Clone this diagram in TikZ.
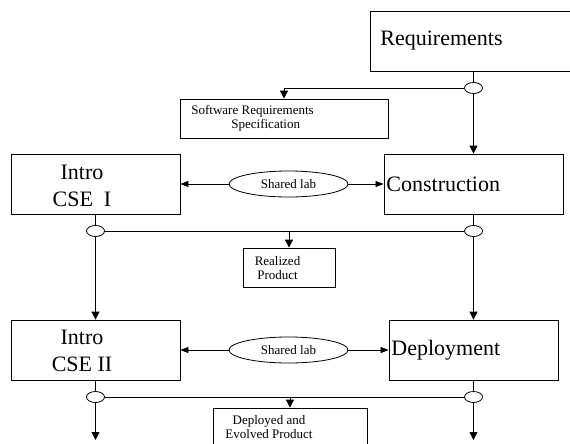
\documentclass[tikz,border=0pt]{standalone}
\usepackage{fontspec}
\setmainfont{Liberation Serif}
\usetikzlibrary{arrows.meta,shapes.geometric}

\begin{document}
\begin{tikzpicture}[x=1pt, y=-1pt, line width=0.8pt,
    stage/.style={draw, minimum height=60pt, inner sep=0pt},
    artifact/.style={draw, minimum height=39pt, inner sep=0pt},
    bigtext/.style={font=\fontsize{22}{27}\selectfont, inner sep=0pt},
    smalltext/.style={font=\fontsize{13}{13.5}\selectfont, inner sep=0pt},
    lab/.style={draw, ellipse, minimum width=119pt, minimum height=26pt, inner sep=0pt,
        font=\fontsize{13}{13.5}\selectfont},
    junction/.style={draw, fill=white, ellipse, minimum width=18pt, minimum height=11pt, inner sep=0pt},
    flow/.style={-{Triangle[length=8pt,width=8pt]}},
    side/.style={-{Triangle[length=8pt,width=6pt]}, line width=0.7pt}]
    \useasboundingbox (0,0) rectangle (570,444);
    % Stages
    \node[stage, minimum width=215pt] (req) at (477.5,41) {};
    \node[bigtext, anchor=west] (reqtext) at (380,41) {Requirements};
    \node[stage, minimum width=179pt] (cons) at (473.5,184) {};
    \node[bigtext, anchor=west] (constext) at (386,184) {Construction};
    \node[stage, minimum width=169pt] (depl) at (473.5,350) {};
    \node[bigtext, anchor=west] (depltext) at (391,350) {Deployment};
    \node[stage, minimum width=169pt] (intro1) at (95.5,184) {};
    \node[bigtext, align=center] (intro1text) at (82,185.5) {Intro\\CSE\ \ I};
    \node[stage, minimum width=169pt] (intro2) at (95.5,350) {};
    \node[bigtext, align=center] (intro2text) at (82,350.5) {Intro\\CSE II};
    % Products
    \node[artifact, minimum width=208pt] (srs) at (284,118.5) {};
    \node[smalltext, anchor=west, align=left] (srstext) at (191,118.5)
        {Software Requirements\\\hspace*{40pt}Specification};
    \node[artifact, minimum width=92pt] (realized) at (289,267.5) {};
    \node[smalltext, align=center] (realizedtext) at (277.5,268) {Realized\\Product};
    \node[artifact, minimum width=154pt] (deployed) at (290,427.5) {};
    \node[smalltext, align=center] (deployedtext) at (269,427) {Deployed and\\Evolved Product};
    % Shared labs
    \node[lab] (lab1) at (288.5,184) {Shared lab};
    \node[lab] (lab2) at (288.5,350) {Shared lab};
    % Junctions
    \node[junction] (jreq) at (473.5,88) {};
    \node[junction] (j1L) at (95.5,231) {};
    \node[junction] (j1R) at (473.5,231) {};
    \node[junction] (j2L) at (95.5,397) {};
    \node[junction] (j2R) at (473.5,397) {};
    \coordinate (outL) at (95.5,440);
    \coordinate (outR) at (473.5,440);
    % Flow from requirements
    \draw (jreq |- req.south) -- (jreq.north);
    \draw[flow] (jreq.south) -- (cons.north);
    \draw[flow] (jreq.west) -| (srs.north);
    % Labs
    \draw[side] (lab1.west) -- (intro1.east);
    \draw[side] (lab1.east) -- (cons.west);
    \draw[side] (lab2.west) -- (intro2.east);
    \draw[side] (lab2.east) -- (depl.west);
    % First merge
    \draw (intro1.south) -- (j1L.north);
    \draw (cons.south) -- (j1R.north);
    \draw (j1L.east) -- (j1R.west);
    \draw[flow] (j1L.south) -- (intro2.north);
    \draw[flow] (j1R.south) -- (depl.north);
    \draw[flow] (realized.north |- j1L) -- (realized.north);
    % Second merge
    \draw (intro2.south) -- (j2L.north);
    \draw (depl.south) -- (j2R.north);
    \draw (j2L.east) -- (j2R.west);
    \draw[flow] (j2L.south) -- (outL);
    \draw[flow] (j2R.south) -- (outR);
    \draw[flow] (deployed.north |- j2L) -- (deployed.north);
\end{tikzpicture}
\end{document}
